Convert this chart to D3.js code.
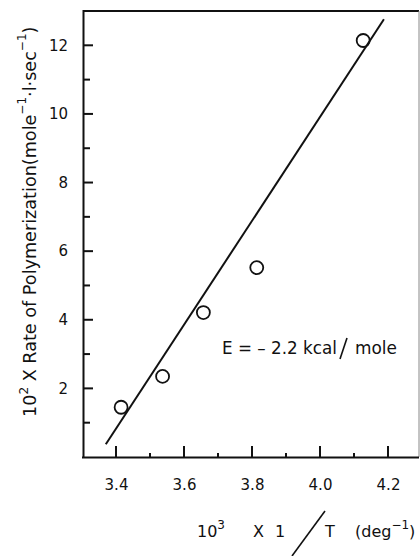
<!DOCTYPE html>
<html>
<head>
<meta charset="utf-8">
<script src="https://cdn.jsdelivr.net/npm/d3@7"></script>
<style>
  html, body { margin: 0; padding: 0; background: #fff; }
  svg { display: block; }
  text { font-family: "DejaVu Sans", "Noto Sans", sans-serif; fill: #111; }
</style>
</head>
<body>
<svg id="chart" width="420" height="556"></svg>
<script>
// Measured points: inverse temperature vs polymerization rate
const invTemp = [3.415, 3.537, 3.657, 3.814, 4.127];
const rate    = [1.45, 2.35, 4.21, 5.52, 12.14];

// Fitted Arrhenius line end points
const fitX = [3.370, 4.188];
const fitY = [0.37, 12.76];

const xMajorTicks = [3.4, 3.6, 3.8, 4.0, 4.2];
const xMinorTicks = [3.5, 3.7, 3.9, 4.1];
const yMajorTicks = [2, 4, 6, 8, 10, 12];
const yMinorTicks = [1, 3, 5, 7, 9, 11];

const svg = d3.select("#chart");
const plotL = 83, plotR = 419, plotT = 11, plotB = 457;
const ink = "#111";

const x = d3.scaleLinear().domain([3.4, 4.2]).range([116, 388]);
x.domain([x.invert(plotL), x.invert(plotR)]).range([plotL, plotR]);
const y = d3.scaleLinear().domain([0, 13]).range([plotB, plotT]);

// Fit a text element to a target length by scaling its font size
function fitWidth(sel, target) {
  const fs = +sel.attr("font-size");
  const w = sel.node().getBBox().width;
  sel.attr("font-size", fs * target / w);
}

// Frame: heavy top, thin right border
svg.append("line").attr("x1", plotL).attr("x2", plotR).attr("y1", plotT).attr("y2", plotT)
  .attr("stroke", ink).attr("stroke-width", 2);
svg.append("line").attr("x1", plotR).attr("x2", plotR).attr("y1", plotT).attr("y2", plotB)
  .attr("stroke", "#888").attr("stroke-width", 1);

// Axis labels via d3 axes (tick marks drawn separately, pointing inward)
const gx = svg.append("g").attr("transform", `translate(0,${plotB})`)
  .call(d3.axisBottom(x).tickValues(xMajorTicks).tickSize(0).tickSizeOuter(0)
    .tickPadding(22).tickFormat(d3.format(".1f")));
const gy = svg.append("g").attr("transform", `translate(${plotL},0)`)
  .call(d3.axisLeft(y).tickValues(yMajorTicks).tickSize(0).tickSizeOuter(0)
    .tickPadding(15).tickFormat(d3.format("d")));
[gx, gy].forEach(g => {
  g.select(".domain").attr("stroke", ink).attr("stroke-width", 2);
  g.selectAll(".tick text").attr("font-size", 15).attr("fill", ink)
    .style("font-family", '"DejaVu Sans", "Noto Sans", sans-serif');
});
gx.select(".domain").attr("d", `M${plotL - 1},0.5H${plotR}`);
gy.select(".domain").attr("d", `M0.5,${plotT - 1}V${plotB + 1}`);

const ticks = svg.append("g").attr("class", "inner-ticks");
function tickLines(cls, data, attrs) {
  ticks.selectAll("line." + cls).data(data).enter().append("line")
    .attr("class", cls)
    .attr("x1", attrs.x1).attr("x2", attrs.x2)
    .attr("y1", attrs.y1).attr("y2", attrs.y2)
    .style("stroke", ink).style("stroke-width", "2px");
}
tickLines("xmaj", xMajorTicks, { x1: d => x(d), x2: d => x(d), y1: plotB, y2: plotB - 11 });
tickLines("xmin", xMinorTicks, { x1: d => x(d), x2: d => x(d), y1: plotB, y2: plotB - 4 });
tickLines("ymaj", yMajorTicks, { x1: plotL, x2: plotL + 10, y1: d => y(d), y2: d => y(d) });
tickLines("ymin", yMinorTicks, { x1: plotL, x2: plotL + 7, y1: d => y(d), y2: d => y(d) });

// Fit line
svg.append("line")
  .attr("x1", x(fitX[0])).attr("y1", y(fitY[0]))
  .attr("x2", x(fitX[1])).attr("y2", y(fitY[1]))
  .attr("stroke", ink).attr("stroke-width", 2);

// Data circles
svg.selectAll("circle.pt").data(invTemp.map((d, i) => [d, rate[i]]))
  .enter().append("circle").attr("class", "pt")
  .attr("cx", d => x(d[0])).attr("cy", d => y(d[1])).attr("r", 6.5)
  .attr("fill", "none").attr("stroke", ink).attr("stroke-width", 1.8);

// Activation energy annotation
const ann1 = svg.append("text").attr("x", 222).attr("y", 354).attr("font-size", 16)
  .text("E = \u2013 2.2 kcal");
fitWidth(ann1, 115);
const ann2 = svg.append("text").attr("x", 355).attr("y", 354).attr("font-size", 16)
  .text("mole");
fitWidth(ann2, 42);
svg.append("line").attr("x1", 347).attr("y1", 338).attr("x2", 340).attr("y2", 359)
  .attr("stroke", ink).attr("stroke-width", 1.6);

// X axis title
const xt = svg.append("g").attr("font-size", 16);
const t10 = xt.append("text").attr("x", 197).attr("y", 537);
t10.append("tspan").text("10");
t10.append("tspan").attr("dy", -8).attr("font-size", 12).text("3");
xt.append("text").attr("x", 253).attr("y", 537).text("X");
xt.append("text").attr("x", 275).attr("y", 537).text("1");
xt.append("text").attr("x", 325).attr("y", 537).text("T");
const tdeg = xt.append("text").attr("x", 355).attr("y", 537);
tdeg.append("tspan").text("(deg");
tdeg.append("tspan").attr("dy", -8).attr("font-size", 12).text("\u22121");
tdeg.append("tspan").attr("dy", 8).text(")");
svg.append("line").attr("x1", 325).attr("y1", 511).attr("x2", 292).attr("y2", 556)
  .attr("stroke", ink).attr("stroke-width", 1.6);

// Y axis title (rotated)
const yt = svg.append("text")
  .attr("transform", "translate(36,417) rotate(-90)")
  .attr("font-size", 16);
yt.append("tspan").text("10");
yt.append("tspan").attr("dy", -8).attr("font-size", 12).text("2");
yt.append("tspan").attr("dy", 8).text(" X  Rate of Polymerization(mole");
yt.append("tspan").attr("dy", -10).attr("font-size", 12).text("\u22121");
yt.append("tspan").attr("dy", 10).text("\u00b7l\u00b7sec");
yt.append("tspan").attr("dy", -10).attr("font-size", 12).text("\u22121");
yt.append("tspan").attr("dy", 10).text(")");
fitWidth(yt, 395);
</script>
</body>
</html>
